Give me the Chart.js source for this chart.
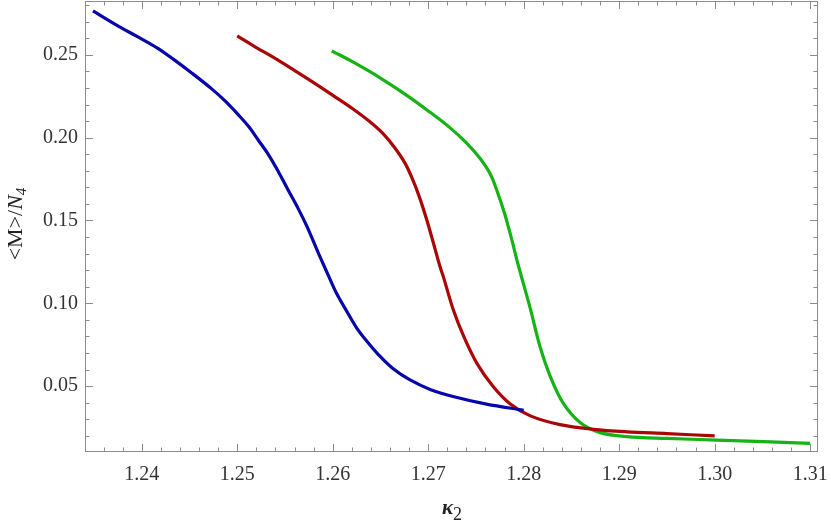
<!DOCTYPE html>
<html>
<head>
<meta charset="utf-8">
<script src="https://cdn.jsdelivr.net/npm/chart.js@4.4.1/dist/chart.umd.min.js"></script>
<style>
html,body{margin:0;padding:0;background:#fff;}
#wrap{width:831px;height:527px;position:relative;}
</style>
</head>
<body>
<div id="wrap"><canvas id="c" width="831" height="527"></canvas></div>
<script>
// ---- data ----
const blueK = [1.2349,1.2375,1.2396,1.2416,1.2433,1.2452,1.2473,1.2487,1.2501,1.2512,1.2522,1.2533,1.2543,1.2553,1.2564,1.2573,1.2585,1.2594,1.2604,1.2615,1.2625,1.2636,1.2648,1.2663,1.2681,1.2702,1.2726,1.2761,1.2800];
const blueM = [0.2765,0.2675,0.2608,0.2542,0.2474,0.2392,0.2296,0.2223,0.2139,0.2067,0.1986,0.1895,0.1796,0.1687,0.1570,0.1464,0.1303,0.1187,0.1060,0.0949,0.0852,0.0769,0.0689,0.0606,0.0537,0.0480,0.0437,0.0391,0.0354];

const redK = [1.2500,1.2520,1.2538,1.2559,1.2580,1.2601,1.2622,1.2639,1.2653,1.2665,1.2676,1.2684,1.2691,1.2698,1.2705,1.2712,1.2716,1.2726,1.2737,1.2751,1.2768,1.2786,1.2807,1.2838,1.2873,1.2908,1.2950,1.3000];
const redM = [0.2614,0.2544,0.2484,0.2409,0.2332,0.2252,0.2170,0.2096,0.2023,0.1939,0.1843,0.1743,0.1638,0.1513,0.1373,0.1228,0.1158,0.0966,0.0803,0.0637,0.0498,0.0392,0.0320,0.0267,0.0239,0.0224,0.0213,0.0199];

const greenK = [1.2599,1.2622,1.2650,1.2678,1.2702,1.2723,1.2740,1.2754,1.2765,1.2773,1.2780,1.2787,1.2794,1.2807,1.2817,1.2828,1.2841,1.2859,1.2880,1.2908,1.2950,1.3002,1.3100];
const greenM = [0.2524,0.2454,0.2360,0.2254,0.2153,0.2059,0.1969,0.1877,0.1780,0.1663,0.1542,0.1396,0.1237,0.0966,0.0740,0.0556,0.0400,0.0280,0.0219,0.0195,0.0184,0.0174,0.0154];

const xTickLabels = ["1.24","1.25","1.26","1.27","1.28","1.29","1.30","1.31"];
const yTickLabels = ["0.05","0.10","0.15","0.20","0.25"];
const xTitle = "κ";
const xTitleSub = "2";
const yTitle = "<M>/";
const yTitleItalic = "N";
const yTitleSub = "4";

const pts = (k, m) => k.map((v, i) => ({x: v, y: m[i]}));

const X_MIN = 1.23406, X_MAX = 1.31082;
const Y_MIN = 0.0102, Y_MAX = 0.2825;
const AXIS_COL = '#8c8c8c';
const SERIF = '"Liberation Serif","DejaVu Serif",serif';

const frameTicks = {
  id: 'frameTicks',
  afterDraw(chart) {
    const {ctx, chartArea: a, scales: {x, y}} = chart;
    ctx.save();
    ctx.strokeStyle = AXIS_COL;
    ctx.lineWidth = 1;
    ctx.strokeRect(a.left + 0.5, a.top + 0.5, a.right - a.left - 1, a.bottom - a.top - 1);
    ctx.beginPath();
    for (let i = Math.ceil(X_MIN / 0.002 - 1e-6); i * 0.002 <= X_MAX + 1e-9; i++) {
      const v = i * 0.002;
      const major = (i % 5) === 0;
      const len = major ? 8 : 4.5;
      const px = Math.round(x.getPixelForValue(v)) + 0.5;
      ctx.moveTo(px, a.bottom); ctx.lineTo(px, a.bottom - len);
      ctx.moveTo(px, a.top); ctx.lineTo(px, a.top + len);
    }
    for (let i = Math.ceil(Y_MIN / 0.01 - 1e-6); i * 0.01 <= Y_MAX + 1e-9; i++) {
      const v = i * 0.01;
      const major = (i % 5) === 0;
      const len = major ? 8 : 4.5;
      const py = Math.round(y.getPixelForValue(v)) + 0.5;
      ctx.moveTo(a.left, py); ctx.lineTo(a.left + len, py);
      ctx.moveTo(a.right, py); ctx.lineTo(a.right - len, py);
    }
    ctx.stroke();

    ctx.fillStyle = '#222';
    ctx.textBaseline = 'alphabetic';
    ctx.font = 'bold italic 21px ' + SERIF;
    const kw = ctx.measureText(xTitle).width;
    ctx.font = '18px ' + SERIF;
    const sw = ctx.measureText(xTitleSub).width;
    let sx = 452 - (kw + sw) / 2;
    ctx.font = 'bold italic 21px ' + SERIF;
    ctx.fillText(xTitle, sx, 514);
    ctx.font = '18px ' + SERIF;
    ctx.fillText(xTitleSub, sx + kw, 520);

    ctx.translate(22, 224);
    ctx.rotate(-Math.PI / 2);
    ctx.font = '22px ' + SERIF;
    const w1 = ctx.measureText(yTitle).width;
    ctx.font = 'italic 22px ' + SERIF;
    const w2 = ctx.measureText(yTitleItalic).width;
    ctx.font = 'italic 15px ' + SERIF;
    const w3 = ctx.measureText(yTitleSub).width;
    let tx = -(w1 + w2 + w3) / 2;
    ctx.font = '22px ' + SERIF;
    ctx.fillText(yTitle, tx, 0);
    ctx.font = 'italic 22px ' + SERIF;
    ctx.fillText(yTitleItalic, tx + w1, 0);
    ctx.font = 'italic 15px ' + SERIF;
    ctx.fillText(yTitleSub, tx + w1 + w2, 4);
    ctx.restore();
  }
};

const lineDs = (label, data, color) => ({
  label, data,
  borderColor: color, backgroundColor: color,
  borderWidth: 3.2, pointRadius: 0, showLine: true,
  tension: 0.35, fill: false
});

const noPad = s => { s.paddingTop = 0; s.paddingBottom = 0; s.paddingLeft = 0; s.paddingRight = 0; };

new Chart(document.getElementById('c'), {
  type: 'scatter',
  data: {
    datasets: [
      lineDs('blue', pts(blueK, blueM), '#0606aa'),
      lineDs('red', pts(redK, redM), '#aa0606'),
      lineDs('green', pts(greenK, greenM), '#16b216')
    ]
  },
  options: {
    responsive: false,
    animation: false,
    devicePixelRatio: 1,
    layout: {padding: {top: 1, right: 13, left: 0, bottom: 0}},
    plugins: {legend: {display: false}, tooltip: {enabled: false}},
    scales: {
      x: {
        type: 'linear', min: X_MIN, max: X_MAX,
        afterFit: s => { s.height = 75; noPad(s); },
        afterBuildTicks: s => { s.ticks = xTickLabels.map(t => ({value: parseFloat(t)})); },
        ticks: {
          callback: (v) => { const i = xTickLabels.findIndex(t => Math.abs(parseFloat(t) - v) < 1e-6); return i >= 0 ? xTickLabels[i] : ''; },
          font: {family: SERIF, size: 20}, color: '#333', padding: 11, maxRotation: 0, autoSkip: false, includeBounds: false
        },
        grid: {display: true, drawOnChartArea: false, drawTicks: false, tickLength: 0, color: 'rgba(0,0,0,0)'},
        border: {display: false}
      },
      y: {
        type: 'linear', min: Y_MIN, max: Y_MAX,
        afterFit: s => { s.width = 85; noPad(s); },
        afterBuildTicks: s => { s.ticks = yTickLabels.map(t => ({value: parseFloat(t)})); },
        ticks: {
          callback: (v) => { const i = yTickLabels.findIndex(t => Math.abs(parseFloat(t) - v) < 1e-6); return i >= 0 ? yTickLabels[i] : ''; },
          font: {family: SERIF, size: 20}, color: '#333', padding: 7, autoSkip: false, includeBounds: false
        },
        grid: {display: true, drawOnChartArea: false, drawTicks: false, tickLength: 0, color: 'rgba(0,0,0,0)'},
        border: {display: false}
      }
    }
  },
  plugins: [frameTicks]
});
</script>
</body>
</html>
